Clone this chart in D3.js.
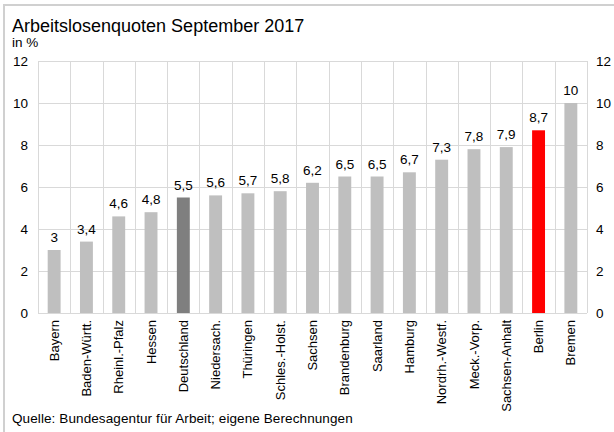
<!DOCTYPE html>
<html>
<head>
<meta charset="utf-8">
<script src="https://cdn.jsdelivr.net/npm/d3@7"></script>
<style>
  html, body { margin: 0; padding: 0; background: #fff; }
  svg { display: block; font-family: "Liberation Sans", Arial, sans-serif; }
</style>
</head>
<body>
<svg id="chart" width="614" height="432"></svg>
<script>
// Arbeitslosenquoten nach Bundesland, September 2017 (in %)
const categories = ["Bayern", "Baden-Württ.", "Rheinl.-Pfalz", "Hessen", "Deutschland", "Niedersach.",
  "Thüringen", "Schles.-Holst.", "Sachsen", "Brandenburg", "Saarland", "Hamburg",
  "Nordrh.-Westf.", "Meck.-Vorp.", "Sachsen-Anhalt", "Berlin", "Bremen"];
const values = [3, 3.4, 4.6, 4.8, 5.5, 5.6, 5.7, 5.8, 6.2, 6.5, 6.5, 6.7, 7.3, 7.8, 7.9, 8.7, 10];
const yTicks = [0, 2, 4, 6, 8, 10, 12];
const highlight = { "Deutschland": "#7f7f7f", "Berlin": "#ff0000" };

const svg = d3.select("#chart");
const margin = { left: 38, right: 27, top: 61, bottom: 119 };
const W = 614, H = 432;
const FONT = "Liberation Sans, Arial, sans-serif";

const x = d3.scaleBand().domain(categories)
  .range([margin.left, W - margin.right]).paddingInner(0.6).paddingOuter(0.3);
const y = d3.scaleLinear().domain([0, 12]).range([H - margin.bottom, margin.top]);

const fmt = v => String(v).replace(".", ",");

// frame lines (top and left)
svg.append("line").attr("x1", 4).attr("x2", 614).attr("y1", 5).attr("y2", 5)
  .attr("stroke", "#d0d0d0").attr("stroke-width", 2);
svg.append("line").attr("x1", 4).attr("x2", 4).attr("y1", 4).attr("y2", 432)
  .attr("stroke", "#d0d0d0").attr("stroke-width", 2);

// horizontal gridlines
svg.append("g").selectAll("line").data(yTicks).join("line")
  .attr("x1", margin.left).attr("x2", W - margin.right)
  .attr("y1", d => Math.round(y(d)) + 0.5).attr("y2", d => Math.round(y(d)) + 0.5)
  .attr("stroke", "#d9d9d9").attr("stroke-width", 1);

// vertical gridlines at category boundaries
const bounds = d3.range(categories.length + 1).map(i => margin.left + i * (W - margin.right - margin.left) / categories.length);
svg.append("g").selectAll("line").data(bounds).join("line")
  .attr("x1", d => Math.round(d) + 0.5).attr("x2", d => Math.round(d) + 0.5)
  .attr("y1", y(12)).attr("y2", y(0))
  .attr("stroke", "#d9d9d9").attr("stroke-width", 1);

// bars
svg.append("g").selectAll("rect").data(categories).join("rect")
  .attr("x", d => x(d)).attr("width", x.bandwidth())
  .attr("y", (d, i) => y(values[i])).attr("height", (d, i) => y(0) - y(values[i]))
  .attr("fill", d => highlight[d] || "#bfbfbf");

// value labels
svg.append("g").selectAll("text").data(categories).join("text")
  .attr("x", d => x(d) + x.bandwidth() / 2)
  .attr("y", (d, i) => y(values[i]) - 8)
  .attr("text-anchor", "middle").attr("font-size", 13.5).attr("fill", "#000")
  .text((d, i) => fmt(values[i]));

// left and right axes
const leftAxis = d3.axisLeft(y).tickValues(yTicks).tickSize(0).tickPadding(10);
const rightAxis = d3.axisRight(y).tickValues(yTicks).tickSize(0).tickPadding(9);
const gl = svg.append("g").attr("transform", `translate(${margin.left},0)`).call(leftAxis);
const gr = svg.append("g").attr("transform", `translate(${W - margin.right},0)`).call(rightAxis);
[gl, gr].forEach(g => {
  g.select(".domain").remove();
  g.selectAll("text").attr("font-size", 13.5).attr("fill", "#000").attr("font-family", FONT);
});

// category labels (rotated)
const bx = d3.axisBottom(x).tickSize(0).tickPadding(0);
const gb = svg.append("g").attr("transform", `translate(0,${y(0)})`).call(bx);
gb.select(".domain").remove();
gb.selectAll("text")
  .attr("font-size", 13).attr("fill", "#000").attr("font-family", FONT)
  .attr("transform", "rotate(-90)")
  .attr("text-anchor", "end").attr("dy", "0.35em")
  .attr("x", -7).attr("y", 0);

// titles
svg.append("text").attr("x", 12).attr("y", 32).attr("font-size", 18).attr("fill", "#000")
  .text("Arbeitslosenquoten September 2017");
svg.append("text").attr("x", 12).attr("y", 47).attr("font-size", 13.5).attr("fill", "#000")
  .text("in %");

// source
svg.append("text").attr("x", 12).attr("y", 423).attr("font-size", 13.5).attr("fill", "#000")
  .attr("letter-spacing", 0.1)
  .text("Quelle: Bundesagentur für Arbeit; eigene Berechnungen");
</script>
</body>
</html>
